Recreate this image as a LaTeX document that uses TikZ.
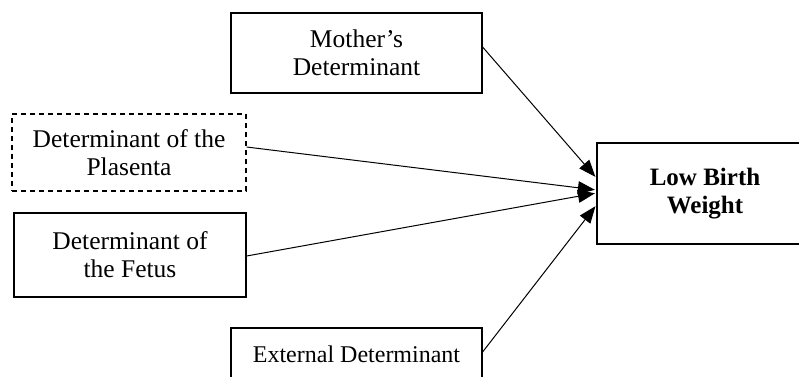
\documentclass[tikz,border=0pt]{standalone}
\usepackage{fontspec}
\setmainfont{Liberation Serif}
\usetikzlibrary{arrows.meta}

\begin{document}
\begin{tikzpicture}[
	x=1pt, y=1pt,
	box/.style={draw, line width=1.2pt, rectangle, align=center, inner sep=0pt,
		font=\fontsize{25.5}{28}\selectfont},
	dashbox/.style={box, dashed, dash pattern=on 5pt off 4pt},
	link/.style={draw, line width=1pt, shorten >=1.5pt, -{Triangle[length=17pt, width=13pt]}}
	]
		\useasboundingbox (0,0) rectangle (799,-376);

		% Nodes
		\node[box, minimum width=251, minimum height=80] (mother) at (356.5,-53) {Mother’s\\Determinant};
		\node[dashbox, minimum width=234, minimum height=77] (plasenta) at (129,-152.5) {Determinant of the\\Plasenta};
		\node[box, minimum width=232, minimum height=84] (fetus) at (130,-255) {Determinant of\\the Fetus};
		\node[box, minimum width=251, minimum height=52, font=\fontsize{24}{28}\selectfont] (external) at (356.5,-354) {External Determinant};
		\node[box, minimum width=216, minimum height=101, font=\fontsize{25}{28}\selectfont\bfseries] (lbw) at (705,-193.5) {Low Birth\\Weight};

		% Arrows
		\draw[link] ([yshift=6pt]mother.east) -- ([yshift=15.5pt]lbw.west);
		\draw[link] ([yshift=5.5pt]plasenta.east) -- ([yshift=3.5pt]lbw.west);
		\draw[link] ([yshift=-1pt]fetus.east) -- ([yshift=0.5pt]lbw.west);
		\draw[link] ([yshift=2pt]external.east) -- ([yshift=-11.5pt]lbw.west);
	\end{tikzpicture}
\end{document}
